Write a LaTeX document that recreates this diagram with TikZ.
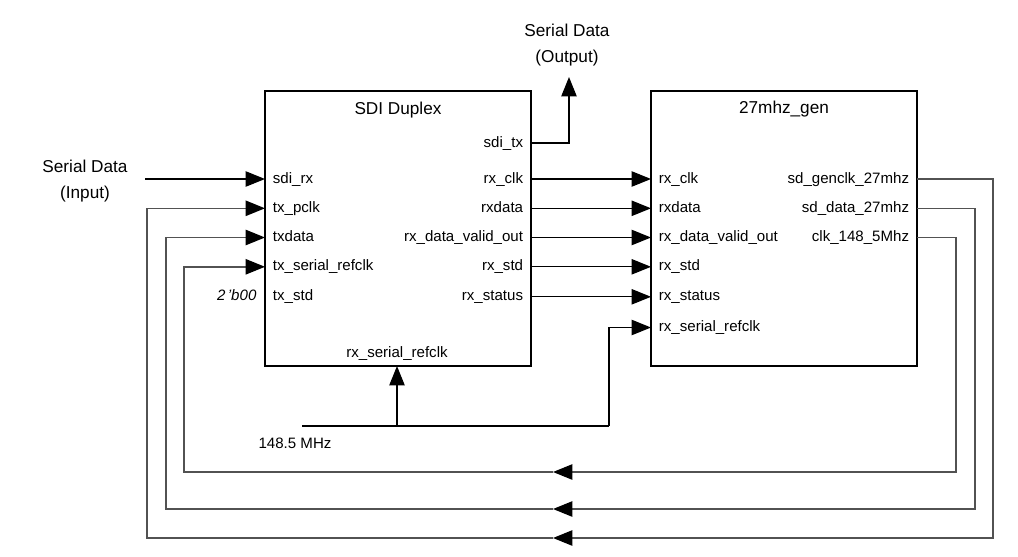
\documentclass[tikz,border=0pt]{standalone}
\usepackage{fontspec}
\setmainfont{Liberation Sans}
\usetikzlibrary{arrows.meta,positioning,calc}

\newcommand\portfont{\fontsize{11.3}{13}\selectfont}
\newcommand\ttlfont{\fontsize{12.9}{19}\selectfont}

\tikzset{every picture/.style={line width=0.9pt}}
\tikzset{
  blk/.style={draw, line width=1pt, inner sep=0pt, minimum width=199.5pt, minimum height=206.25pt},
  pinl/.style={anchor=west, inner sep=0pt, xshift=5.5pt, font=\portfont, text height=8.5pt, text depth=2.5pt},
  pinr/.style={anchor=east, inner sep=0pt, xshift=-5.5pt, font=\portfont, text height=8.5pt, text depth=2.5pt},
  ttl/.style={anchor=base, inner sep=0pt, font=\ttlfont},
  arr/.style={-{Triangle[length=14.5pt,width=11.5pt,color=black]}},
  loopln/.style={draw=black!68, line width=1.05pt},
}

\begin{document}
\begin{tikzpicture}[x=0.75pt,y=0.75pt,yscale=-1]
\useasboundingbox (0,0) rectangle (1018,557);

%Blocks
\node[blk] (sdi) at (398,228.5) {};
\node[blk] (gen) at (784,228.5) {};
\node[ttl] (sditit) at ($(sdi.north)+(0,24)$) {SDI Duplex};
\node[ttl] (gentit) at ($(gen.north)+(0,23)$) {27mhz\_gen};

%Ports of SDI Duplex
\coordinate (sdirx) at (265,179);
\coordinate (txpclk) at (265,208.3);
\coordinate (txdata) at (265,237.5);
\coordinate (txref) at (265,266.8);
\coordinate (txstd) at (265,296.8);
\coordinate (sditx) at (531,143);
\coordinate (rxclk) at (531,179);
\coordinate (rxdata) at (531,208.3);
\coordinate (rxvalid) at (531,237.5);
\coordinate (rxstd) at (531,266.8);
\coordinate (rxstatus) at (531,296.8);
\coordinate (rxref) at (397,366);
\node[pinl] at (sdirx) {sdi\_rx};
\node[pinl] at (txpclk) {tx\_pclk};
\node[pinl] at (txdata) {txdata};
\node[pinl] at (txref) {tx\_serial\_refclk};
\node[pinl] at (txstd) {tx\_std};
\node[pinr] at (sditx) {sdi\_tx};
\node[pinr] at (rxclk) {rx\_clk};
\node[pinr] at (rxdata) {rxdata};
\node[pinr] at (rxvalid) {rx\_data\_valid\_out};
\node[pinr] at (rxstd) {rx\_std};
\node[pinr] at (rxstatus) {rx\_status};
\node[anchor=base, inner sep=0pt, font=\portfont] (rxreflbl) at ($(rxref)+(0,-9)$) {rx\_serial\_refclk};
\node[anchor=east, inner sep=0pt, font=\portfont\itshape, text height=8.5pt, text depth=2.5pt] (zero) at ($(txstd)+(-8,0)$) {2\,'b00};

%Ports of 27mhz_gen
\coordinate (grxclk) at (651,179);
\coordinate (grxdata) at (651,208.3);
\coordinate (grxvalid) at (651,237.5);
\coordinate (grxstd) at (651,266.8);
\coordinate (grxstatus) at (651,296.8);
\coordinate (grxref) at (651,327.5);
\coordinate (genclk) at (917,179);
\coordinate (gendata) at (917,208.3);
\coordinate (gen148) at (917,237.5);
\node[pinl] at (grxclk) {rx\_clk};
\node[pinl] at (grxdata) {rxdata};
\node[pinl] at (grxvalid) {rx\_data\_valid\_out};
\node[pinl] at (grxstd) {rx\_std};
\node[pinl] at (grxstatus) {rx\_status};
\node[pinl] at (grxref) {rx\_serial\_refclk};
\node[pinr] at (genclk) {sd\_genclk\_27mhz};
\node[pinr] at (gendata) {sd\_data\_27mhz};
\node[pinr] at (gen148) {clk\_148\_5Mhz};

% Text Node
\node[align=center, inner sep=0pt, font=\ttlfont] (serin) at (85,181) {Serial Data\\(Input)};
% Text Node
\node[align=center, inner sep=0pt, font=\ttlfont] (serout) at (567,45) {Serial Data\\(Output)};
% Text Node
\node[anchor=base west, inner sep=0pt, font=\portfont] (clk) at (258,448) {148.5 MHz};

%Straight Lines
\coordinate (inbeg) at (145,179);
\draw[arr] (inbeg) -- (sdirx);
\coordinate (outend) at (569,77);
\draw[arr] (sditx) -| (outend);
\draw[arr] (rxclk) -- (grxclk);
\draw[arr] (rxdata) -- (grxdata);
\draw[arr] (rxvalid) -- (grxvalid);
\draw[arr] (rxstd) -- (grxstd);
\draw[arr] (rxstatus) -- (grxstatus);

%Reference clock
\coordinate (clkbeg) at (302,426);
\coordinate (clkmid) at (397,426);
\coordinate (clkturn) at (609,426);
\draw (clkbeg) -- (clkturn);
\draw[arr] (clkmid) -- (rxref);
\draw[arr] (clkturn) |- (grxref);

%Feedback loops
\coordinate (fb1r) at (993,538);
\coordinate (fb1m) at (553,538);
\coordinate (fb1l) at (147,538);
\coordinate (fb2r) at (975,509);
\coordinate (fb2m) at (553,509);
\coordinate (fb2l) at (166,509);
\coordinate (fb3r) at (956,472);
\coordinate (fb3m) at (553,472);
\coordinate (fb3l) at (184,472);
\draw[loopln, arr] (genclk) -| (fb1r) -- (fb1m);
\draw[loopln, arr] (fb1m) -- (fb1l) |- (txpclk);
\draw[loopln, arr] (gendata) -| (fb2r) -- (fb2m);
\draw[loopln, arr] (fb2m) -- (fb2l) |- (txdata);
\draw[loopln, arr] (gen148) -| (fb3r) -- (fb3m);
\draw[loopln, arr] (fb3m) -- (fb3l) |- (txref);

\end{tikzpicture}
\end{document}
